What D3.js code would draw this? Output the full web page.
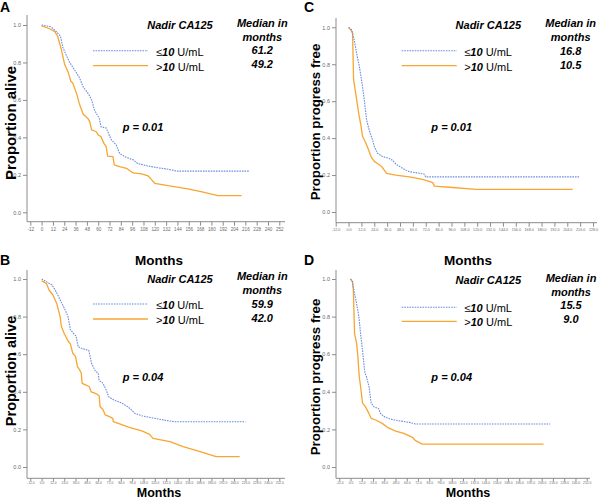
<!DOCTYPE html>
<html>
<head>
<meta charset="utf-8">
<script src="https://cdn.jsdelivr.net/npm/d3@7"></script>
<style>
  html, body { margin: 0; padding: 0; background: #fff; }
  svg { display: block; font-family: "Liberation Sans", Arial, sans-serif; }
</style>
</head>
<body>
<svg id="chart" width="600" height="500"></svg>
<script>
// ---------------- DATA ----------------
const panelLetters = ["A", "C", "B", "D"];
const yTitles = ["Proportion alive", "Proportion progress free", "Proportion alive", "Proportion progress free"];
const xTitle = "Months";
const legendTitle = "Nadir CA125";
const seriesNames = ["\u2264", ">"];
const medianA = ["61.2", "49.2"];
const medianC = ["16.8", "10.5"];
const medianB = ["59.9", "42.0"];
const medianD = ["15.5", "9.0"];
const pValues = ["p = 0.01", "p = 0.01", "p = 0.04", "p = 0.04"];
const yTickValues = [0, 0.2, 0.4, 0.6, 0.8, 1.0];
const xTicksA = [-12, 0, 12, 24, 36, 48, 60, 72, 84, 96, 108, 120, 132, 144, 156, 168, 180, 192, 204, 216, 228, 240, 252];
const xTicksC = [-12, 0, 12, 24, 36, 48, 60, 72, 84, 96, 108, 120, 132, 144, 156, 168, 180, 192, 204, 216, 228];
const xTicksBD = [-12, 0, 12, 24, 36, 48, 60, 72, 84, 96, 108, 120, 132, 144, 156, 168, 180, 192, 204, 216, 228, 240, 252];

// Panel A: overall survival (months, proportion alive)
const lowA = [[0,1.0],[10,0.99],[15.5,0.965],[20,0.94],[22.6,0.88],[26,0.84],[29.7,0.80],[35,0.76],[40,0.72],[44,0.67],[50,0.63],[53,0.60],[56,0.546],[61.2,0.50],[63,0.457],[68.5,0.45],[71,0.42],[74,0.386],[79,0.36],[82.7,0.315],[88,0.297],[97,0.28],[102,0.26],[113,0.247],[123,0.238],[134,0.23],[143,0.22],[220,0.22]];
const highA = [[0,0.995],[8.5,0.98],[14,0.965],[17,0.94],[21,0.867],[24.4,0.79],[28,0.75],[31,0.70],[33,0.69],[37,0.635],[40,0.58],[44,0.525],[47,0.51],[49.2,0.50],[51,0.484],[53,0.44],[58,0.43],[60,0.413],[63,0.404],[66,0.368],[68.5,0.35],[70,0.30],[75.6,0.297],[77,0.253],[82.7,0.244],[90,0.235],[97,0.21],[106,0.205],[113,0.194],[115.5,0.18],[120,0.155],[134,0.142],[155,0.125],[169,0.11],[187,0.089],[212,0.089]];
// Panel C: progression-free
const lowC = [[0,1.0],[3,0.985],[5.3,0.93],[7.5,0.86],[10,0.79],[12.5,0.70],[14.6,0.61],[15.8,0.55],[16.8,0.50],[18.5,0.46],[20,0.43],[22.4,0.39],[24,0.354],[27,0.318],[31.8,0.30],[38,0.29],[41,0.28],[44,0.26],[50.5,0.236],[56.7,0.218],[66,0.21],[70.7,0.205],[72,0.19],[215,0.19]];
const highC = [[0,1.0],[2.2,0.985],[3.7,0.97],[4.7,0.715],[6.2,0.66],[7.5,0.61],[9.3,0.54],[10.5,0.50],[11.5,0.47],[13,0.41],[16.2,0.372],[18.7,0.336],[20.9,0.30],[24,0.274],[28.7,0.256],[31,0.245],[33.3,0.227],[35.5,0.209],[44,0.20],[56.7,0.19],[69,0.177],[78.5,0.159],[80,0.14],[94,0.134],[119,0.123],[209,0.123]];
// Panel B: overall survival
const lowB = [[0,1.0],[5,0.986],[11,0.968],[14.5,0.94],[18,0.906],[21.5,0.87],[25,0.835],[28,0.80],[30.5,0.73],[34,0.71],[36.5,0.697],[38.7,0.64],[43,0.63],[50,0.62],[53,0.55],[57,0.51],[59.9,0.50],[61,0.46],[65,0.445],[68.5,0.41],[71,0.374],[76.7,0.356],[85,0.34],[90,0.325],[94,0.31],[99,0.285],[106,0.273],[117,0.262],[134.6,0.245],[141.7,0.241],[216,0.241]];
const highB = [[0,0.99],[5,0.977],[8,0.94],[12,0.915],[16,0.87],[19.6,0.80],[21,0.746],[24,0.71],[28,0.67],[30.5,0.655],[33,0.605],[36,0.587],[38,0.534],[40.5,0.515],[42,0.50],[43,0.445],[47,0.436],[50.6,0.427],[52.5,0.40],[57.7,0.39],[61,0.379],[62,0.32],[65,0.306],[67.5,0.277],[72,0.268],[75.4,0.259],[76,0.241],[82.7,0.229],[93,0.211],[107,0.191],[114.5,0.174],[118,0.152],[136,0.135],[150,0.108],[168,0.082],[185,0.055],[210,0.055]];
// Panel D: progression-free
const lowD = [[0,1.0],[2,0.986],[3.6,0.94],[6.4,0.87],[8.9,0.80],[10.7,0.71],[12.8,0.62],[14.9,0.516],[15.5,0.50],[17,0.48],[19.6,0.43],[22,0.34],[25,0.32],[30,0.31],[32,0.285],[35.6,0.268],[42.7,0.254],[53,0.245],[64,0.236],[69,0.229],[213,0.229]];
const highD = [[0,1.0],[2,0.986],[3,0.94],[4.3,0.71],[6.4,0.66],[7.8,0.59],[9,0.50],[9.3,0.48],[10.7,0.427],[12.8,0.34],[16,0.32],[19.6,0.285],[22,0.259],[26.7,0.25],[33.8,0.232],[40,0.209],[48,0.191],[57,0.179],[66,0.158],[69.4,0.14],[76.5,0.122],[206,0.122]];

// ---------------- LAYOUT ----------------
const COLOR_LOW = "#6d8ce0";
const COLOR_HIGH = "#f7a631";
const AXIS_COLOR = "#8c8c8c";
const TICK_TEXT = "#6a6a6a";

const panels = [
  { letter: panelLetters[0], letterX: 0, letterY: 12, yTitle: yTitles[0], yTitleX: 11, yTitleY: 123, yTitleSize: 15,
    low: lowA, high: highA, medians: medianA, p: pValues[0], xTicks: xTicksA, xFmt: d => String(d), xTickSize: 4.6, xTickLen: 4, xPad: 2,
    xDom: [-12, 252], xRange: [30.3, 279.3], yRange: [212.3, 25], yAxisX: 27, yAxisTop: 15, xAxisY: 221.7, xAxisRight: 285,
    nadirX: 180, nadirY: 29.3, medX: 262.3, medY: [26.7, 40.7, 54, 68],
    legX1: 93, legX2: 148, legY: [50.7, 65.7], legTextX: 156, legTextY: [55.5, 70.5], pX: 143, pY: 131 },
  { letter: panelLetters[1], letterX: 304, letterY: 12, yTitle: yTitles[1], yTitleX: 315, yTitleY: 122, yTitleSize: 13.3,
    low: lowC, high: highC, medians: medianC, p: pValues[1], xTicks: xTicksC, xFmt: d => d.toFixed(1), xTickSize: 3.7, xTickLen: 4, xPad: 2,
    xDom: [-12, 228], xRange: [335.7, 593], yRange: [212, 27.3], yAxisX: 336, yAxisTop: 18, xAxisY: 222.7, xAxisRight: 597,
    nadirX: 488.3, nadirY: 29.3, medX: 570.7, medY: [26.7, 41.2, 54.5, 68.5],
    legX1: 401.7, legX2: 456.7, legY: [50.7, 65.7], legTextX: 464.3, legTextY: [55.5, 70.5], pX: 451.7, pY: 131 },
  { letter: panelLetters[2], letterX: 0, letterY: 265, yTitle: yTitles[2], yTitleX: 11, yTitleY: 371, yTitleSize: 14.5,
    low: lowB, high: highB, medians: medianB, p: pValues[2], xTicks: xTicksBD, xFmt: d => d.toFixed(1), xTickSize: 3.3, xTickLen: 3, xPad: 0.5,
    xDom: [-12, 252], xRange: [30.3, 279.3], yRange: [467, 279], yAxisX: 27, yAxisTop: 270, xAxisY: 478.3, xAxisRight: 285,
    nadirX: 180, nadirY: 283, medX: 262.3, medY: [280, 294.3, 307.5, 321.5],
    legX1: 93, legX2: 148, legY: [304, 319], legTextX: 156, legTextY: [309, 324], pX: 143, pY: 380.5 },
  { letter: panelLetters[3], letterX: 304, letterY: 265, yTitle: yTitles[3], yTitleX: 315, yTitleY: 377, yTitleSize: 13.3,
    low: lowD, high: highD, medians: medianD, p: pValues[3], xTicks: xTicksBD, xFmt: d => d.toFixed(1), xTickSize: 3.3, xTickLen: 3, xPad: 0.5,
    xDom: [-12, 252], xRange: [339.3, 586.7], yRange: [467, 279], yAxisX: 336, yAxisTop: 270, xAxisY: 478.3, xAxisRight: 590,
    nadirX: 488.3, nadirY: 283.5, medX: 571, medY: [281.7, 295.7, 308.5, 322.7],
    legX1: 401.7, legX2: 456.7, legY: [307.3, 321.3], legTextX: 464.3, legTextY: [311.5, 325.5], pX: 451.7, pY: 380.5 }
];

const svg = d3.select("#chart");

function drawPanel(c) {
  const g = svg.append("g");
  const x = d3.scaleLinear().domain(c.xDom).range(c.xRange);
  const y = d3.scaleLinear().domain([0, 1]).range(c.yRange);

  // axes lines
  g.append("line").attr("x1", c.yAxisX).attr("x2", c.yAxisX).attr("y1", c.yAxisTop).attr("y2", c.xAxisY)
    .attr("stroke", AXIS_COLOR).attr("stroke-width", 1);
  g.append("line").attr("x1", c.yAxisX).attr("x2", c.xAxisRight).attr("y1", c.xAxisY).attr("y2", c.xAxisY)
    .attr("stroke", AXIS_COLOR).attr("stroke-width", 1);

  const xa = g.append("g").attr("transform", `translate(0,${c.xAxisY})`)
    .call(d3.axisBottom(x).tickValues(c.xTicks).tickFormat(c.xFmt).tickSize(c.xTickLen).tickPadding(c.xPad));
  xa.select(".domain").remove();
  xa.selectAll(".tick line").attr("stroke", AXIS_COLOR);
  xa.selectAll(".tick text").attr("fill", TICK_TEXT).style("font-size", c.xTickSize + "px");

  const ya = g.append("g").attr("transform", `translate(${c.yAxisX},0)`)
    .call(d3.axisLeft(y).tickValues(yTickValues).tickFormat(d3.format(".1f")).tickSize(4).tickPadding(2));
  ya.select(".domain").remove();
  ya.selectAll(".tick line").attr("stroke", AXIS_COLOR);
  ya.selectAll(".tick text").attr("fill", TICK_TEXT).style("font-size", "5.5px");

  const line = d3.line().x(d => x(d[0])).y(d => y(d[1]));
  g.append("path").datum(c.high).attr("d", line).attr("fill", "none")
    .attr("stroke", COLOR_HIGH).attr("stroke-width", 1.3).attr("stroke-linejoin", "round");
  g.append("path").datum(c.low).attr("d", line).attr("fill", "none")
    .attr("stroke", COLOR_LOW).attr("stroke-width", 1.1).attr("stroke-dasharray", "1.6,1");

  // panel letter
  g.append("text").attr("x", c.letterX).attr("y", c.letterY).text(c.letter)
    .style("font-size", "14px").style("font-weight", "bold").attr("fill", "#000");

  // y title
  g.append("text").attr("transform", `translate(${c.yTitleX + c.yTitleSize * 0.36},${c.yTitleY}) rotate(-90)`)
    .attr("text-anchor", "middle").text(c.yTitle)
    .style("font-size", c.yTitleSize + "px").style("font-weight", "bold").attr("fill", "#000");

  // legend header
  const bi = sel => sel.style("font-weight", "bold").style("font-style", "italic").style("font-size", "11px").attr("fill", "#000");
  g.append("text").attr("x", c.nadirX).attr("y", c.nadirY).attr("text-anchor", "middle").text(legendTitle).call(bi);
  g.append("text").attr("x", c.medX).attr("y", c.medY[0]).attr("text-anchor", "middle").text("Median in").call(bi);
  g.append("text").attr("x", c.medX).attr("y", c.medY[1]).attr("text-anchor", "middle").text("months").call(bi);
  g.append("text").attr("x", c.medX).attr("y", c.medY[2]).attr("text-anchor", "middle").text(c.medians[0]).call(bi);
  g.append("text").attr("x", c.medX).attr("y", c.medY[3]).attr("text-anchor", "middle").text(c.medians[1]).call(bi);

  // legend lines
  g.append("line").attr("x1", c.legX1).attr("x2", c.legX2).attr("y1", c.legY[0]).attr("y2", c.legY[0])
    .attr("stroke", COLOR_LOW).attr("stroke-width", 1.1).attr("stroke-dasharray", "1.6,1");
  g.append("line").attr("x1", c.legX1).attr("x2", c.legX2).attr("y1", c.legY[1]).attr("y2", c.legY[1])
    .attr("stroke", COLOR_HIGH).attr("stroke-width", 1.3);

  seriesNames.forEach((s, i) => {
    const t = g.append("text").attr("x", c.legTextX).attr("y", c.legTextY[i]).style("font-size", "11px").attr("fill", "#000");
    t.append("tspan").text(s).style("font-weight", "normal");
    t.append("tspan").text("10").style("font-weight", "bold").style("font-style", "italic");
    t.append("tspan").text(" U/mL");
  });

  // p-value
  g.append("text").attr("x", c.pX).attr("y", c.pY).attr("text-anchor", "middle").text(c.p).call(bi);
}

panels.forEach(drawPanel);

// x titles
const xTitlePos = [[159, 265, 13.5], [468, 265, 13.5], [159, 496.5, 12.5], [468, 496.5, 12.5]];
xTitlePos.forEach(p => {
  svg.append("text").attr("x", p[0]).attr("y", p[1]).attr("text-anchor", "middle").text(xTitle)
    .style("font-size", p[2] + "px").style("font-weight", "bold").attr("fill", "#000");
});
</script>
</body>
</html>
